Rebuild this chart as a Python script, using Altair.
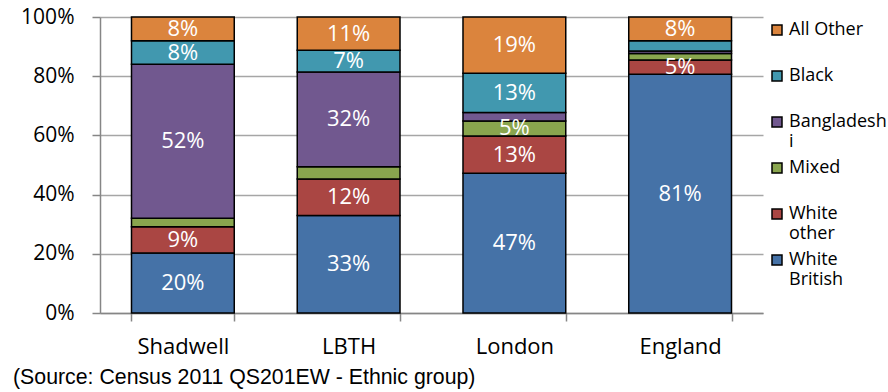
import altair as alt
import pandas as pd

areas = ["Shadwell", "LBTH", "London", "England"]
groups = ["White British", "White other", "Mixed", "Bangladeshi", "Black", "All Other"]
white_british = [20.3, 32.9, 47.2, 80.7]
white_other = [8.8, 12.4, 12.6, 4.8]
mixed = [2.9, 4.1, 5.1, 2.2]
bangladeshi = [52.0, 32.0, 2.8, 0.8]
black = [8.0, 7.4, 13.3, 3.5]
all_other = [8.0, 11.2, 19.0, 8.0]
y_ticks = [0, 20, 40, 60, 80, 100]
colors = ["#4572A7", "#AA4643", "#89A54E", "#71588F", "#4198AF", "#DB843D"]
source_note = "(Source: Census 2011 QS201EW - Ethnic group)"

series = [white_british, white_other, mixed, bangladeshi, black, all_other]
rows = []
for gi, (g, vals) in enumerate(zip(groups, series)):
    for a, v in zip(areas, vals):
        rows.append({"area": a, "group": g, "value": v, "order": gi})
df = pd.DataFrame(rows)

legend_order = groups[::-1]
legend_colors = colors[::-1]

base = alt.Chart(df).transform_stack(
    stack="value", groupby=["area"],
    sort=[alt.SortField("order", order="ascending")],
    as_=["y0", "y1"],
).transform_calculate(
    mid="(datum.y0 + datum.y1) / 2",
    label="format(datum.value, '.0f') + '%'",
)

x_enc = alt.X(
    "area:N", sort=areas, title=None,
    scale=alt.Scale(paddingInner=0.38, paddingOuter=0.19),
    axis=alt.Axis(labelAngle=0, tickBand="extent", tickSize=8, tickColor="#868686",
                  tickWidth=1.5, domainColor="#868686", domainWidth=1.5,
                  labelPadding=15, labelFont="Open Sans", labelFontSize=22,
                  labelColor="black", grid=False),
)

label_expr = ("datum.label == 'Bangladeshi' ? ['Bangladesh', 'i'] : "
              "datum.label == 'White other' ? ['White', 'other'] : "
              "datum.label == 'White British' ? ['White', 'British'] : [datum.label, '']")

bars = base.mark_bar(stroke="black", strokeWidth=1.5).encode(
    x=x_enc,
    y=alt.Y("y0:Q", title=None, scale=alt.Scale(domain=[0, 100], nice=False),
            axis=alt.Axis(values=y_ticks, labelExpr="datum.value + '%'",
                          tickSize=8, tickColor="#868686", tickWidth=1.5,
                          domainColor="#868686", domainWidth=1.5,
                          labelPadding=18, labelFont="Open Sans", labelFontSize=21,
                          labelColor="black", grid=True, gridColor="#a6a6a6",
                          gridWidth=1.3)),
    y2="y1:Q",
    color=alt.Color("group:N",
                    scale=alt.Scale(domain=legend_order, range=legend_colors),
                    legend=alt.Legend(title=None, orient="right", offset=1, padding=4,
                                      symbolType="square", symbolSize=100,
                                      symbolStrokeColor="black", symbolStrokeWidth=1.5,
                                      labelFont="Open Sans", labelFontSize=18,
                                      labelColor="black", labelOffset=3, rowPadding=8,
                                      labelExpr=label_expr)),
)

texts = base.transform_filter("datum.value >= 4.5").mark_text(
    color="white", font="Open Sans", fontSize=22, baseline="middle"
).encode(
    x=x_enc,
    y=alt.Y("mid:Q"),
    text="label:N",
)

chart = alt.layer(bars, texts).properties(
    width=663,
    height=296,
    title=alt.TitleParams(source_note, orient="bottom", anchor="start", frame="group",
                          font="Liberation Sans", fontSize=21.3, fontWeight="normal",
                          color="black", offset=10, dx=-87),
    autosize=alt.AutoSizeParams(type="none"),
    padding={"left": 100, "top": 17, "right": 125, "bottom": 79},
).configure_view(stroke=None)

chart.save("out.html", embed_options={"renderer": "svg", "actions": False})
